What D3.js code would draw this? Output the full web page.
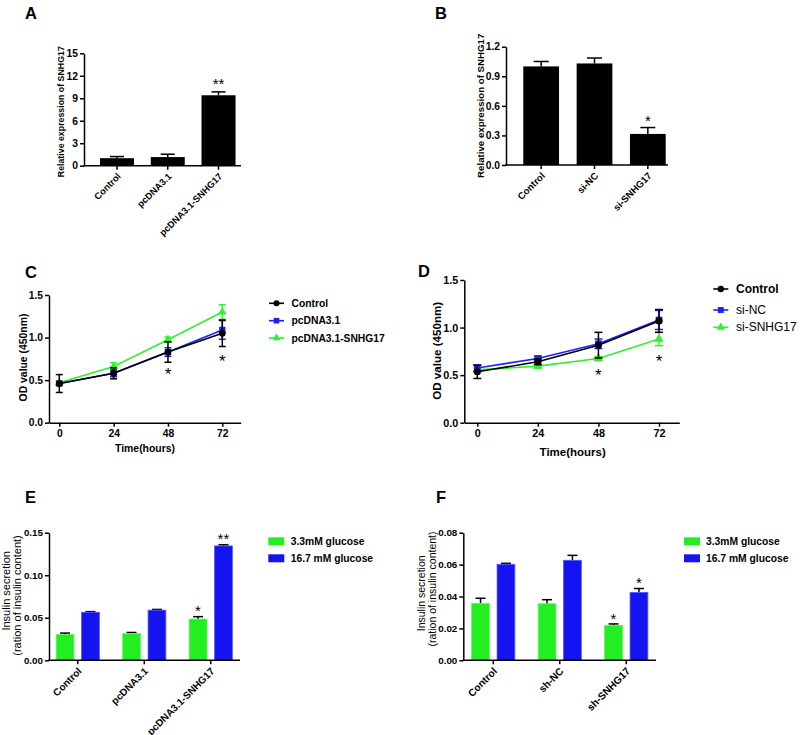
<!DOCTYPE html>
<html><head><meta charset="utf-8">
<script src="https://cdn.jsdelivr.net/npm/d3@7"></script>
<style>
body{margin:0;background:#fff;}
svg{display:block;}
</style></head><body>
<svg id="c" width="800" height="735"></svg>
<script>
// ---------------- DATA ----------------
const catsA = ["Control", "pcDNA3.1", "pcDNA3.1-SNHG17"];
const valsA = [1.0, 1.15, 9.4];
const errsA = [0.22, 0.38, 0.45];
const sigA = ["", "", "**"];
const ticksA = [0, 3, 6, 9, 12, 15];

const catsB = ["Control", "si-NC", "si-SNHG17"];
const valsB = [1.0, 1.03, 0.315];
const errsB = [0.05, 0.055, 0.065];
const sigB = ["", "", "*"];
const ticksB = [0, 0.3, 0.6, 0.9, 1.2];

const timesCD = [0, 24, 48, 72];
const ticksOD = [0, 0.5, 1.0, 1.5];
const seriesNamesC = ["Control", "pcDNA3.1", "pcDNA3.1-SNHG17"];
const controlC = [0.46, 0.58, 0.83, 1.05];
const controlCErr = [0.105, 0.065, 0.12, 0.155];
const pcdnaC = [0.46, 0.58, 0.83, 1.09];
const pcdnaCErr = [0.02, 0.04, 0.05, 0.11];
const snhgC = [0.47, 0.66, 0.975, 1.30];
const snhgCErr = [0.02, 0.045, 0.03, 0.085];
const sigTimesC = [48, 72];
const sigLevelsC = [0.62, 0.77];

const seriesNamesD = ["Control", "si-NC", "si-SNHG17"];
const controlD = [0.535, 0.64, 0.815, 1.07];
const controlDErr = [0.07, 0.03, 0.135, 0.12];
const sincD = [0.575, 0.675, 0.83, 1.08];
const sincDErr = [0.03, 0.025, 0.05, 0.1];
const sisnhgD = [0.555, 0.595, 0.675, 0.88];
const sisnhgDErr = [0.02, 0.02, 0.02, 0.07];
const sigTimesD = [48, 72];
const sigLevelsD = [0.54, 0.69];

const glucoseNames = ["3.3mM glucose", "16.7 mM glucose"];
const catsE = ["Control", "pcDNA3.1", "pcDNA3.1-SNHG17"];
const lowE = [0.0305, 0.0315, 0.0485];
const lowEErr = [0.0015, 0.0012, 0.0028];
const highE = [0.0565, 0.059, 0.1345];
const highEErr = [0.0007, 0.0008, 0.0013];
const sigLowE = ["", "", "*"];
const sigHighE = ["", "", "**"];
const ticksE = [0, 0.05, 0.10, 0.15];

const catsF = ["Control", "sh-NC", "sh-SNHG17"];
const lowF = [0.0357, 0.0355, 0.0219];
const lowFErr = [0.0032, 0.0025, 0.0009];
const highF = [0.0602, 0.0627, 0.0426];
const highFErr = [0.0006, 0.0031, 0.0024];
const sigLowF = ["", "", "*"];
const sigHighF = ["", "", "*"];
const ticksF = [0, 0.02, 0.04, 0.06, 0.08];

// ---------------- DRAWING ----------------
const FONT = "'Liberation Sans', Arial, Helvetica, sans-serif";
const GREEN = "#22ee22", BLUE = "#1414f0";
const LGREEN = "#33ee33", LBLUE = "#1f1fff";
const svg = d3.select("#c").attr("font-family", FONT);

function styleAxis(g, fs) {
  g.attr("font-family", FONT).attr("font-size", fs).attr("font-weight", "bold");
  g.selectAll("path.domain").attr("stroke", "#000").attr("stroke-width", 1.5);
  g.selectAll(".tick line").attr("stroke", "#000").attr("stroke-width", 1.5);
  g.selectAll(".tick text").attr("fill", "#000");
}

function star(x, cy, txt, fs) {
  svg.append("text").attr("x", x).attr("y", cy + 0.585 * fs)
    .attr("text-anchor", "middle").attr("font-size", fs).attr("fill", "#000")
    .text(txt);
}

function vTitle(txt, cx, cy, fs, weight) {
  svg.append("text").attr("transform", `translate(${cx},${cy}) rotate(-90)`)
    .attr("text-anchor", "middle").attr("dominant-baseline", "central")
    .attr("font-size", fs).attr("font-weight", weight).attr("fill", "#000").text(txt);
}

function panelLetter(txt, x, y) {
  svg.append("text").attr("x", x).attr("y", y).attr("font-size", 16.5)
    .attr("font-weight", "bold").attr("fill", "#000").text(txt);
}

function barChart(o) {
  const y = d3.scaleLinear().domain([0, o.ticks[o.ticks.length - 1]]).range([o.y0, o.yTop]);
  const x = d3.scaleBand().domain(o.cats).range(o.band).paddingInner(o.pad).paddingOuter(o.pad / 2);
  const sub = d3.scaleBand().domain(d3.range(o.series.length)).range([0, x.bandwidth()]).paddingInner(o.innerPad);
  const g = svg.append("g");
  o.series.forEach((s, si) => {
    o.cats.forEach((c, i) => {
      const bx = x(c) + sub(si), bw = sub.bandwidth();
      const top = y(s.vals[i] + s.errs[i]);
      const cx = bx + bw / 2;
      g.append("line").attr("x1", cx).attr("x2", cx).attr("y1", y(s.vals[i])).attr("y2", top)
        .attr("stroke", "#000").attr("stroke-width", 1.5);
      g.append("line").attr("x1", cx - o.cap).attr("x2", cx + o.cap).attr("y1", top).attr("y2", top)
        .attr("stroke", "#000").attr("stroke-width", 1.5);
      g.append("rect").attr("x", bx).attr("y", y(s.vals[i])).attr("width", bw)
        .attr("height", y(0) - y(s.vals[i])).attr("fill", s.color)
        .attr("stroke", s.stroke || "none").attr("stroke-width", 0.8);
      if (s.sig[i]) star(cx, top - o.sigOff, s.sig[i], o.sigFs);
    });
  });
  const ya = svg.append("g").attr("transform", `translate(${o.axisX},0)`)
    .call(d3.axisLeft(y).tickValues(o.ticks).tickSize(4).tickPadding(2).tickSizeOuter(0).tickFormat(o.fmt));
  styleAxis(ya, o.tickFs);
  svg.append("line").attr("x1", o.axisX - 0.75).attr("x2", o.xEnd).attr("y1", o.y0).attr("y2", o.y0)
    .attr("stroke", "#000").attr("stroke-width", 1.5);
  o.cats.forEach(c => {
    const cx = x(c) + x.bandwidth() / 2;
    svg.append("line").attr("x1", cx).attr("x2", cx).attr("y1", o.y0).attr("y2", o.y0 + 4)
      .attr("stroke", "#000").attr("stroke-width", 1.5);
    svg.append("text").attr("transform", `translate(${cx + 2},${o.y0 + 9}) rotate(-45)`)
      .attr("text-anchor", "end").attr("dy", "0.35em").attr("font-size", o.catFs)
      .attr("font-weight", "bold").attr("fill", "#000").text(c);
  });
}

function lineChart(o) {
  const k = (o.p72 - o.p0) / 72;
  const x = d3.scaleLinear().domain([(o.axisX - o.p0) / k, (o.xEnd - o.p0) / k]).range([o.axisX, o.xEnd]);
  const y = d3.scaleLinear().domain([0, 1.5]).range([o.y0, o.yTop]);
  const g = svg.append("g");
  const line = d3.line().x((d, i) => x(timesCD[i])).y(d => y(d));
  o.series.slice().reverse().forEach(s => {
    g.append("path").attr("d", line(s.vals)).attr("fill", "none").attr("stroke", s.color).attr("stroke-width", 1.6);
    s.vals.forEach((v, i) => {
      const cx = x(timesCD[i]);
      const lo = y(v - s.errs[i]), hi = y(v + s.errs[i]);
      g.append("line").attr("x1", cx).attr("x2", cx).attr("y1", lo).attr("y2", hi).attr("stroke", s.color).attr("stroke-width", 1.5);
      [lo, hi].forEach(yy => g.append("line").attr("x1", cx - o.cap).attr("x2", cx + o.cap).attr("y1", yy).attr("y2", yy)
        .attr("stroke", s.color).attr("stroke-width", 1.5));
      g.append("path").attr("transform", `translate(${cx},${y(v)})`)
        .attr("d", d3.symbol().type(s.sym).size(s.size)()).attr("fill", s.color);
    });
  });
  o.sigT.forEach((t, i) => star(x(t), y(o.sigV[i]), "*", 17));
  const ya = svg.append("g").attr("transform", `translate(${o.axisX},0)`)
    .call(d3.axisLeft(y).tickValues(ticksOD).tickSize(4).tickPadding(2).tickSizeOuter(0).tickFormat(d3.format(".1f")));
  styleAxis(ya, o.tickFs);
  const xa = svg.append("g").attr("transform", `translate(0,${o.y0})`)
    .call(d3.axisBottom(x).tickValues(timesCD).tickSize(4).tickPadding(3).tickSizeOuter(0).tickFormat(d3.format("d")));
  styleAxis(xa, o.tickFs);
  o.series.forEach((s, i) => {
    const ly = o.legY[i];
    svg.append("line").attr("x1", o.legX).attr("x2", o.legX + 15).attr("y1", ly).attr("y2", ly)
      .attr("stroke", s.color).attr("stroke-width", 1.6);
    svg.append("path").attr("transform", `translate(${o.legX + 7.5},${ly})`)
      .attr("d", d3.symbol().type(s.sym).size(s.size * 0.8)()).attr("fill", s.color);
    svg.append("text").attr("x", o.legTX).attr("y", ly).attr("dominant-baseline", "central")
      .attr("font-size", o.legFs).attr("font-weight", o.legW[i]).attr("fill", "#000").text(o.names[i]);
  });
}

function glucoseLegend(x, tx, ys) {
  [GREEN, BLUE].forEach((c, i) => {
    svg.append("rect").attr("x", x).attr("y", ys[i] - 4).attr("width", 16).attr("height", 8).attr("fill", c);
    svg.append("text").attr("x", tx).attr("y", ys[i]).attr("dominant-baseline", "central")
      .attr("font-size", 10.3).attr("font-weight", "bold").attr("fill", "#000").text(glucoseNames[i]);
  });
}

// Panel A
panelLetter("A", 25, 18.5);
barChart({cats: catsA, series: [{vals: valsA, errs: errsA, sig: sigA, color: "#000"}],
  ticks: ticksA, fmt: d3.format("d"), y0: 165.7, yTop: 53.3, axisX: 84, xEnd: 241,
  band: [91.6, 243.9], pad: 0.33, innerPad: 0, cap: 7, tickFs: 10.3, catFs: 9.3, sigOff: 12, sigFs: 15});
vTitle("Relative expression of SNHG17", 61, 111.7, 8.8, "bold");

// Panel B
panelLetter("B", 435, 18.5);
barChart({cats: catsB, series: [{vals: valsB, errs: errsB, sig: sigB, color: "#000"}],
  ticks: ticksB, fmt: d3.format(".1f"), y0: 165, yTop: 46.7, axisX: 506, xEnd: 668,
  band: [514.5, 674.5], pad: 0.33, innerPad: 0, cap: 7.5, tickFs: 10.3, catFs: 9.6, sigOff: 10, sigFs: 15});
vTitle("Relative expression of SNHG17", 480, 105.8, 9.7, "bold");

// Panel C
panelLetter("C", 25, 278);
lineChart({series: [
    {vals: controlC, errs: controlCErr, color: "#000", sym: d3.symbolCircle, size: 36},
    {vals: pcdnaC, errs: pcdnaCErr, color: LBLUE, sym: d3.symbolSquare, size: 40},
    {vals: snhgC, errs: snhgCErr, color: LGREEN, sym: d3.symbolTriangle, size: 34}],
  names: seriesNamesC, axisX: 49, xEnd: 240.7, p0: 59.3, p72: 222.3, y0: 422.7, yTop: 295,
  cap: 3.5, tickFs: 10.3, sigT: sigTimesC, sigV: sigLevelsC,
  legX: 269, legTX: 291.5, legY: [303.3, 320.7, 338], legFs: 10.3, legW: ["bold", "bold", "bold"]});
vTitle("OD value (450nm)", 23.3, 357.5, 10.4, "bold");
svg.append("text").attr("x", 145).attr("y", 448.3).attr("text-anchor", "middle").attr("dominant-baseline", "central")
  .attr("font-size", 10.4).attr("font-weight", "bold").text("Time(hours)");

// Panel D
panelLetter("D", 418, 277);
lineChart({series: [
    {vals: controlD, errs: controlDErr, color: "#000", sym: d3.symbolCircle, size: 40},
    {vals: sincD, errs: sincDErr, color: LBLUE, sym: d3.symbolSquare, size: 44},
    {vals: sisnhgD, errs: sisnhgDErr, color: LGREEN, sym: d3.symbolTriangle, size: 38}],
  names: seriesNamesD, axisX: 464.3, xEnd: 679.3, p0: 477.3, p72: 659, y0: 422.7, yTop: 280,
  cap: 4, tickFs: 10.8, sigT: sigTimesD, sigV: sigLevelsD,
  legX: 713.3, legTX: 736, legY: [289, 310, 327.3], legFs: 12, legW: ["bold", "normal", "normal"]});
vTitle("OD value (450nm)", 436.7, 350.8, 11.6, "bold");
svg.append("text").attr("x", 572.7).attr("y", 451.7).attr("text-anchor", "middle").attr("dominant-baseline", "central")
  .attr("font-size", 11.5).attr("font-weight", "bold").text("Time(hours)");

// Panel E
panelLetter("E", 25, 503);
barChart({cats: catsE, series: [
    {vals: lowE, errs: lowEErr, sig: sigLowE, color: GREEN, stroke: "#66f566"},
    {vals: highE, errs: highEErr, sig: sigHighE, color: BLUE, stroke: "#5a5af5"}],
  ticks: ticksE, fmt: d3.format(".2f"), y0: 660.3, yTop: 532.7, axisX: 49, xEnd: 240,
  band: [44.5, 244], pad: 0.35, innerPad: 0.3, cap: 5, tickFs: 9.8, catFs: 10, sigOff: 9.5, sigFs: 15});
vTitle("Insulin secretion", 6, 590.8, 11, "normal");
vTitle("(ration of insulin content)", 17, 595.5, 11, "normal");
glucoseLegend(268.3, 290.7, [541.3, 558.3]);

// Panel F
panelLetter("F", 436, 503);
barChart({cats: catsF, series: [
    {vals: lowF, errs: lowFErr, sig: sigLowF, color: GREEN, stroke: "#66f566"},
    {vals: highF, errs: highFErr, sig: sigHighF, color: BLUE, stroke: "#5a5af5"}],
  ticks: ticksF, fmt: d3.format(".2f"), y0: 660.3, yTop: 532.7, axisX: 463.3, xEnd: 656,
  band: [460, 659.5], pad: 0.35, innerPad: 0.3, cap: 5, tickFs: 9.8, catFs: 10.2, sigOff: 9, sigFs: 15});
vTitle("Insulin secretion", 420.7, 593.3, 10.5, "normal");
vTitle("(ration of insulin content)", 431.7, 589, 10.5, "normal");
glucoseLegend(684, 706, [541.3, 558.3]);
</script>
</body></html>
